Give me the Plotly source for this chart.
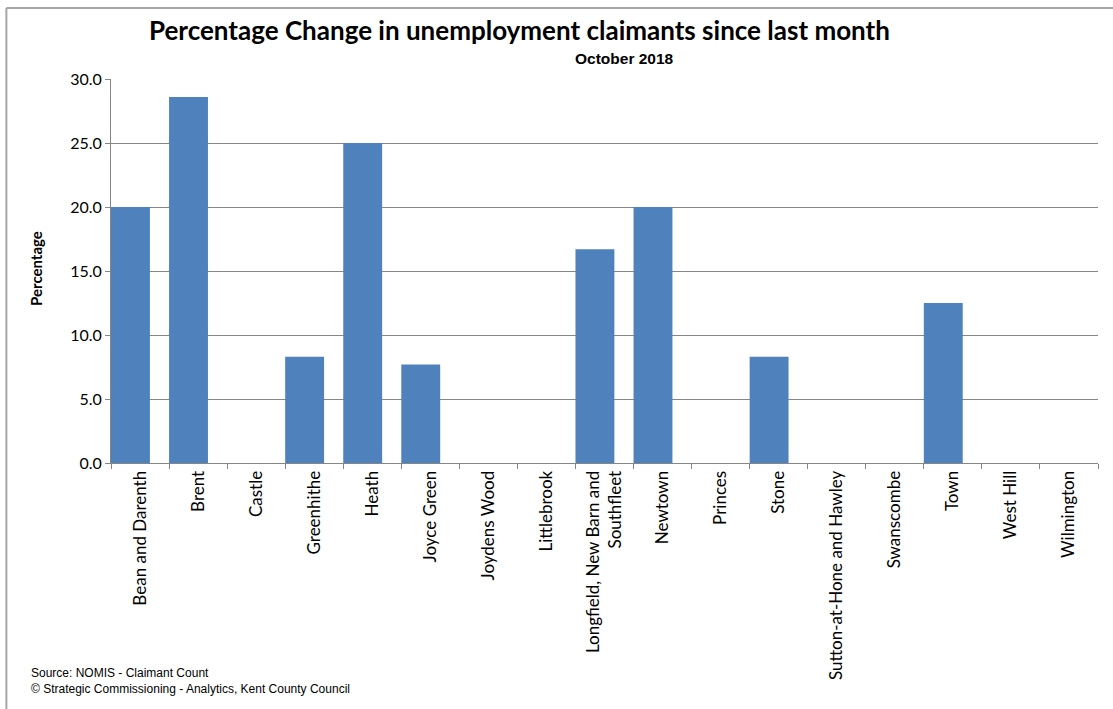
import plotly.graph_objects as go

wards = ["Bean and Darenth", "Brent", "Castle", "Greenhithe", "Heath", "Joyce Green",
         "Joydens Wood", "Littlebrook", "Longfield, New Barn and<br>Southfleet", "Newtown",
         "Princes", "Stone", "Sutton-at-Hone and Hawley", "Swanscombe", "Town",
         "West Hill", "Wilmington"]
pct_change = [20.0, 28.6, 0.0, 8.3, 25.0, 7.7, 0.0, 0.0, 16.7, 20.0,
              0.0, 8.3, 0.0, 0.0, 12.5, 0.0, 0.0]
y_ticks = [0, 5, 10, 15, 20, 25, 30]

body_font = "Lato, Noto Sans, sans-serif"
arial = "Liberation Sans, Arial, sans-serif"

# bars sit at the left of each category slot, as in the original Excel chart
fig = go.Figure(go.Bar(x=wards, y=pct_change, marker_color="#4F81BD",
                       marker_line_width=0, width=0.67, offset=-0.5))

fig.update_layout(
    width=1113, height=709,
    margin=dict(l=111, r=15, t=79, b=246),
    paper_bgcolor="white", plot_bgcolor="white",
    showlegend=False,
    font=dict(family=body_font, size=16, color="black"),
)

fig.update_yaxes(
    range=[0, 30], tickvals=y_ticks, tickformat=".1f",
    showgrid=True, gridcolor="#868686", gridwidth=1,
    showline=True, linecolor="#868686", linewidth=1,
    ticks="outside", ticklen=5, tickcolor="#868686",
    zeroline=False, tickfont=dict(size=16),
)
fig.update_xaxes(
    type="category", tickangle=-90,
    showline=True, linecolor="#868686", linewidth=1,
    ticks="outside", ticklen=5, tickcolor="#868686", tickson="boundaries",
    showgrid=False, tickfont=dict(size=17),
)

# y axis title
fig.add_annotation(text="<b>Percentage</b>", textangle=-90,
                   xref="paper", yref="paper", x=-0.076, y=0.508,
                   xanchor="center", yanchor="middle",
                   showarrow=False, font=dict(size=15))

# title and subtitle
fig.add_annotation(text="<b>Percentage Change in unemployment claimants since last month</b>",
                   xref="paper", yref="paper", x=0.414, y=1.0, yshift=49,
                   xanchor="center", yanchor="middle",
                   showarrow=False, font=dict(family=body_font, size=26))
fig.add_annotation(text="<b>October 2018</b>",
                   xref="paper", yref="paper", x=0.52, y=1.0, yshift=21,
                   xanchor="center", yanchor="middle",
                   showarrow=False, font=dict(family=arial, size=15.5))

# footer
fig.add_annotation(text="Source: NOMIS - Claimant Count<br>© Strategic Commissioning - Analytics, Kent County Council",
                   xref="paper", yref="paper", x=-0.083, y=0, yshift=-201,
                   xanchor="left", yanchor="top", align="left",
                   showarrow=False, font=dict(family=arial, size=12))

# chart frame (only top and left edges fall inside the picture)
fig.add_shape(type="line", xref="paper", yref="paper", x0=-0.106, x1=1.2, y0=1.185, y1=1.185,
              line=dict(color="#A6A6A6", width=2))
fig.add_shape(type="line", xref="paper", yref="paper", x0=-0.106, x1=-0.106, y0=1.185, y1=-1.0,
              line=dict(color="#A6A6A6", width=2))

fig.write_html("out.html", config={"displayModeBar": False},
               post_script="document.body.style.margin='0';")
